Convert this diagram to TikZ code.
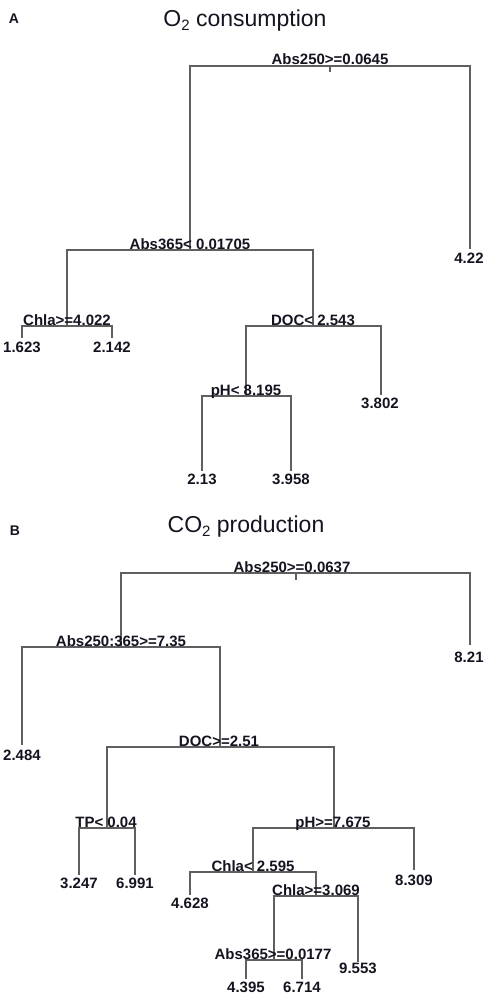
\documentclass[tikz,border=0pt]{standalone}
\usepackage{fontspec}
\setmainfont{Liberation Sans}
\definecolor{txtc}{RGB}{20,20,32}
\definecolor{linec}{RGB}{95,95,95}
\begin{document}
\begin{tikzpicture}[x=1pt,y=-1pt,
  edge/.style={draw=linec, line width=1.2pt},
  split/.style={font=\bfseries\fontsize{15}{15}\selectfont, anchor=base, inner sep=0pt, text=txtc},
  leaf/.style={font=\bfseries\fontsize{15}{15}\selectfont, anchor=north, inner sep=0pt, text=txtc},
  title/.style={font=\fontsize{23}{23}\selectfont, anchor=base, inner sep=0pt, text=txtc},
  panel/.style={font=\bfseries\fontsize{14}{14}\selectfont, inner sep=0pt, text=txtc}]
\useasboundingbox (0,0) rectangle (490,1003);

% ---------------- Panel A ----------------
\node[panel] (pA) at (14,19) {A};
\node[title] (tA) at (245,27) {O{\fontsize{15}{15}\selectfont\raisebox{-4pt}{2}} consumption};

\coordinate (rA) at (330,66);
\coordinate (tkA) at (330,72);
\coordinate (a1) at (190,250);
\coordinate (lA1) at (470,249);
\coordinate (a2) at (67,326);
\coordinate (a3) at (313,326);
\coordinate (lA2) at (22,338);
\coordinate (lA3) at (112,338);
\coordinate (a4) at (246,396);
\coordinate (lA4) at (381,395);
\coordinate (lA5) at (202,471);
\coordinate (lA6) at (291,471);

\draw[edge] (rA) -- (tkA);
\draw[edge] (rA) -| (a1);
\draw[edge] (rA) -| (lA1);
\draw[edge] (a1) -| (a2);
\draw[edge] (a1) -| (a3);
\draw[edge] (a2) -| (lA2);
\draw[edge] (a2) -| (lA3);
\draw[edge] (a3) -| (a4);
\draw[edge] (a3) -| (lA4);
\draw[edge] (a4) -| (lA5);
\draw[edge] (a4) -| (lA6);

\node[split] (sA1) at (330,65) {Abs250>=0.0645};
\node[split] (sA2) at (190,249) {Abs365< 0.01705};
\node[split] (sA3) at (67,325) {Chla>=4.022};
\node[split] (sA4) at (313,325) {DOC< 2.543};
\node[split] (sA5) at (246,395) {pH< 8.195};

\node[leaf] (vA1) at (469,253) {4.22};
\node[leaf] (vA2) at (22,342) {1.623};
\node[leaf] (vA3) at (112,342) {2.142};
\node[leaf] (vA4) at (380,398) {3.802};
\node[leaf] (vA5) at (202,474) {2.13};
\node[leaf] (vA6) at (291,474) {3.958};

% ---------------- Panel B ----------------
\node[panel] (pB) at (15,531) {B};
\node[title] (tB) at (246,532) {CO{\fontsize{15}{15}\selectfont\raisebox{-4pt}{2}} production};

\coordinate (rB) at (296,573);
\coordinate (tkB) at (296,580);
\coordinate (b1) at (121,647);
\coordinate (lB1) at (470,645);
\coordinate (lB2) at (22,745);
\coordinate (b2) at (220,747);
\coordinate (b3) at (107,828);
\coordinate (lB3) at (79,875);
\coordinate (lB4) at (135,875);
\coordinate (b4) at (334,828);
\coordinate (lB5) at (414,870);
\coordinate (b5) at (253,872);
\coordinate (lB6) at (190,895);
\coordinate (b6) at (316,896);
\coordinate (lB7) at (358,962);
\coordinate (b7) at (274,960);
\coordinate (lB8) at (246,979);
\coordinate (lB9) at (302,979);

\draw[edge] (rB) -- (tkB);
\draw[edge] (rB) -| (b1);
\draw[edge] (rB) -| (lB1);
\draw[edge] (b1) -| (lB2);
\draw[edge] (b1) -| (b2);
\draw[edge] (b2) -| (b3);
\draw[edge] (b2) -| (b4);
\draw[edge] (b3) -| (lB3);
\draw[edge] (b3) -| (lB4);
\draw[edge] (b4) -| (b5);
\draw[edge] (b4) -| (lB5);
\draw[edge] (b5) -| (lB6);
\draw[edge] (b5) -| (b6);
\draw[edge] (b6) -| (b7);
\draw[edge] (b6) -| (lB7);
\draw[edge] (b7) -| (lB8);
\draw[edge] (b7) -| (lB9);

\node[split] (sB1) at (292,572) {Abs250>=0.0637};
\node[split] (sB2) at (121,646) {Abs250:365>=7.35};
\node[split] (sB3) at (219,746) {DOC>=2.51};
\node[split] (sB4) at (106,827) {TP< 0.04};
\node[split] (sB5) at (333,827) {pH>=7.675};
\node[split] (sB6) at (253,871) {Chla< 2.595};
\node[split] (sB7) at (316,895) {Chla>=3.069};
\node[split] (sB8) at (273,959) {Abs365>=0.0177};

\node[leaf] (vB1) at (469,652) {8.21};
\node[leaf] (vB2) at (22,750) {2.484};
\node[leaf] (vB3) at (79,878) {3.247};
\node[leaf] (vB4) at (135,878) {6.991};
\node[leaf] (vB5) at (414,875) {8.309};
\node[leaf] (vB6) at (190,898) {4.628};
\node[leaf] (vB7) at (358,963) {9.553};
\node[leaf] (vB8) at (246,982) {4.395};
\node[leaf] (vB9) at (302,982) {6.714};
\end{tikzpicture}
\end{document}
